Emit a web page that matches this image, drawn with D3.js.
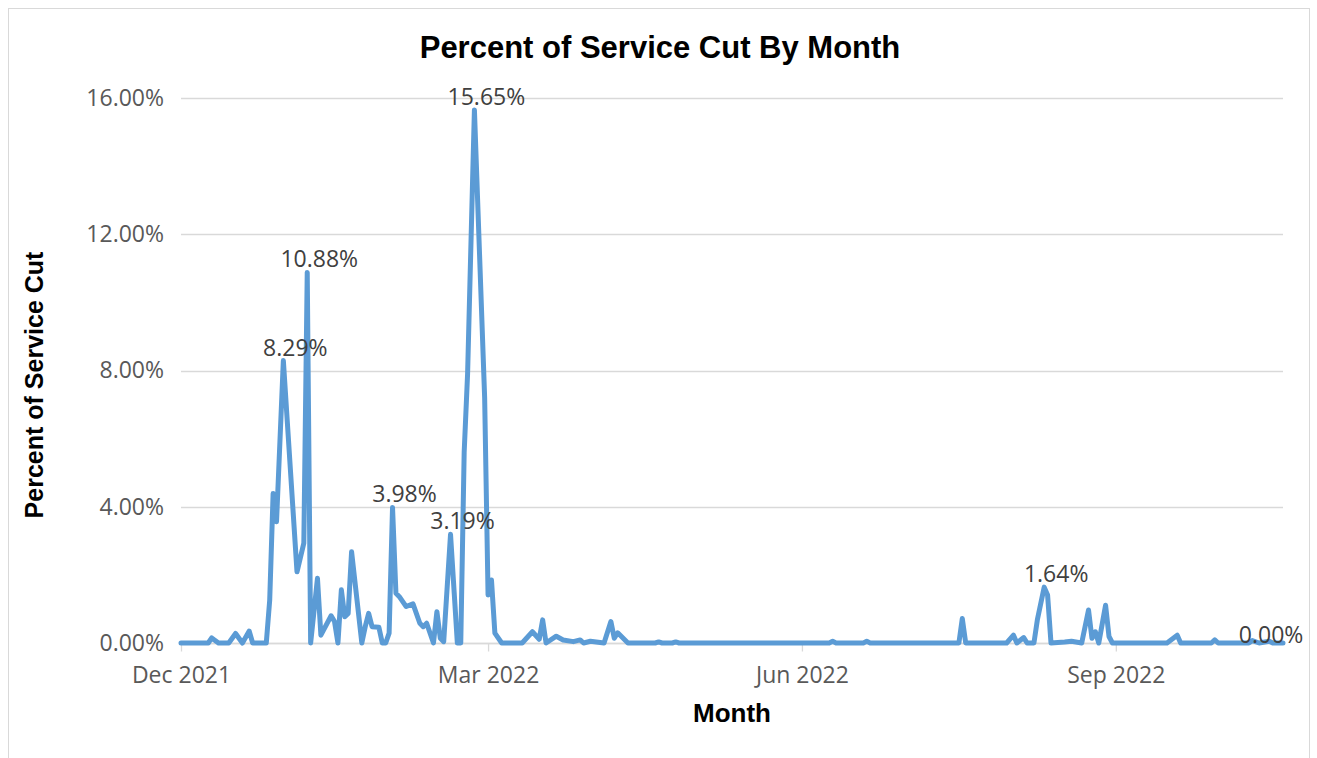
<!DOCTYPE html>
<html><head><meta charset="utf-8">
<script src="https://cdn.jsdelivr.net/npm/d3@7"></script>
<style>html,body{margin:0;padding:0;background:#fff;}svg{display:block;}</style>
</head><body><svg id="c" width="1317" height="758"></svg>
<script>
const dates = ["2021-12-01","2021-12-09","2021-12-10","2021-12-12","2021-12-15","2021-12-17","2021-12-19","2021-12-21","2021-12-22","2021-12-26","2021-12-27","2021-12-28","2021-12-29","2021-12-31",
"2022-01-04","2022-01-06","2022-01-07","2022-01-08","2022-01-10","2022-01-11","2022-01-14","2022-01-15","2022-01-16","2022-01-17","2022-01-18","2022-01-19","2022-01-20","2022-01-23","2022-01-24","2022-01-25","2022-01-26","2022-01-28","2022-01-29","2022-01-30","2022-01-31",
"2022-02-01","2022-02-02","2022-02-03","2022-02-05","2022-02-07","2022-02-09","2022-02-10","2022-02-11","2022-02-13","2022-02-14","2022-02-15","2022-02-16","2022-02-18","2022-02-20","2022-02-21","2022-02-22","2022-02-23","2022-02-25","2022-02-28",
"2022-03-01","2022-03-02","2022-03-03","2022-03-05","2022-03-11","2022-03-14","2022-03-16","2022-03-17","2022-03-18","2022-03-21","2022-03-23","2022-03-26","2022-03-28","2022-03-29","2022-03-31",
"2022-04-04","2022-04-06","2022-04-07","2022-04-08","2022-04-11","2022-04-19","2022-04-20","2022-04-21","2022-04-24","2022-04-25","2022-04-26",
"2022-06-09","2022-06-10","2022-06-11","2022-06-19","2022-06-20","2022-06-21","2022-07-17","2022-07-18","2022-07-19","2022-07-31",
"2022-08-02","2022-08-03","2022-08-05","2022-08-06","2022-08-08","2022-08-09","2022-08-11","2022-08-12","2022-08-13","2022-08-17","2022-08-19","2022-08-22","2022-08-24","2022-08-25","2022-08-26","2022-08-27","2022-08-29","2022-08-30","2022-08-31",
"2022-09-16","2022-09-19","2022-09-20","2022-09-29","2022-09-30","2022-10-01","2022-10-10","2022-10-11","2022-10-13","2022-10-16","2022-10-17","2022-10-20"];
const values = [0,0,0.15,0,0,0.28,0,0.35,0,0,1.26,4.39,3.56,8.29,
2.09,2.93,10.88,0,1.9,0.23,0.8,0.63,0,1.56,0.77,0.87,2.68,0,0.48,0.87,0.48,0.46,0,0,0.29,
3.98,1.46,1.36,1.07,1.15,0.58,0.48,0.58,0,0.92,0.14,0.04,3.19,0,0,5.6,7.9,15.65,7.2,
1.41,1.85,0.29,0,0,0.33,0.11,0.68,0,0.2,0.09,0.04,0.09,0,0.05,
0,0.63,0.14,0.3,0,0,0.03,0,0,0.03,0,
0,0.05,0,0,0.05,0,0,0.72,0,0,
0.23,0,0.16,0,0,0.68,1.64,1.41,0,0.03,0.05,0,0.97,0.14,0.33,0,1.11,0.19,0,
0,0.23,0,0,0.09,0,0,0.07,0,0.05,0,0];
const labelDates = ["2021-12-31","2022-01-07","2022-02-01","2022-02-18","2022-02-25","2022-08-11","2022-10-13"];
const labelTexts = ["8.29%","10.88%","3.98%","3.19%","15.65%","1.64%","0.00%"];
const yTicks = [0,4,8,12,16];
const xTickDates = ["2021-12-01","2022-03-01","2022-06-01","2022-09-01"];
const title = "Percent of Service Cut By Month";
const xTitle = "Month";
const yTitle = "Percent of Service Cut";

const parse = d3.timeParse("%Y-%m-%d");
const data = dates.map((d,i)=>({date:parse(d), v:values[i]}));
const svg = d3.select("#c");
const m = {l:181, r:1283, t:98, b:643};
const FONT = "Open Sans, sans-serif";
const BOLD = "Liberation Sans, Arial, sans-serif";

svg.append("rect").attr("x",8.5).attr("y",8.5).attr("width",1301).attr("height",760)
  .attr("fill","#fff").attr("stroke","#d9d9d9").attr("stroke-width",1);

const x = d3.scaleTime().domain([parse("2021-12-01"), parse("2022-10-20")]).range([m.l, m.r]);
const y = d3.scaleLinear().domain([0,16]).range([m.b, m.t]);

// gridlines
svg.append("g").selectAll("line").data(yTicks).join("line")
  .attr("x1",m.l).attr("x2",m.r).attr("y1",d=>Math.round(y(d))+0.5).attr("y2",d=>Math.round(y(d))+0.5)
  .attr("stroke","#d9d9d9").attr("stroke-width",1.3);

// y axis labels
const yAxis = d3.axisLeft(y).tickValues(yTicks).tickSize(0).tickPadding(0).tickFormat(d=>d3.format(".2f")(d)+"%");
const gy = svg.append("g").attr("transform",`translate(${m.l-17},0)`).call(yAxis);
gy.select(".domain").remove();
gy.selectAll("text").attr("font-family",FONT).attr("font-size",23).attr("fill","#595959");

// x axis
const xAxis = d3.axisBottom(x).tickValues(xTickDates.map(parse)).tickSize(8).tickPadding(15).tickFormat(d3.timeFormat("%b %Y"));
const gx = svg.append("g").attr("transform",`translate(0,${Math.round(m.b)+0.5})`).call(xAxis);
gx.select(".domain").attr("stroke","#d9d9d9").attr("stroke-width",1.3).attr("d",`M${m.l},0H${m.r}`);
gx.selectAll(".tick line").attr("stroke","#d9d9d9").attr("stroke-width",1.3);
gx.selectAll("text").attr("font-family",FONT).attr("font-size",23).attr("fill","#595959");

// line
const line = d3.line().x(d=>x(d.date)).y(d=>y(d.v));
svg.append("path").datum(data).attr("d",line).attr("fill","none")
  .attr("stroke","#5b9bd5").attr("stroke-width",5).attr("stroke-linejoin","round").attr("stroke-linecap","round");

// data labels
labelDates.forEach((d,i)=>{
  const dt = parse(d);
  const pt = data.find(p=>+p.date===+dt);
  const v = pt ? pt.v : 0;
  svg.append("text").attr("x",x(dt)+12).attr("y",y(v)-(v===0?0:5)).attr("text-anchor","middle")
    .attr("font-family",FONT).attr("font-size",23).attr("fill","#404040").text(labelTexts[i]);
});

// titles
svg.append("text").attr("x",660).attr("y",58).attr("text-anchor","middle")
  .attr("font-family",BOLD).attr("font-weight","bold").attr("font-size",31).text(title);
svg.append("text").attr("x",732).attr("y",722).attr("text-anchor","middle")
  .attr("font-family",BOLD).attr("font-weight","bold").attr("font-size",26).text(xTitle);
svg.append("text").attr("transform",`translate(43,385) rotate(-90)`).attr("text-anchor","middle")
  .attr("font-family",BOLD).attr("font-weight","bold").attr("font-size",25).text(yTitle);
</script></body></html>
